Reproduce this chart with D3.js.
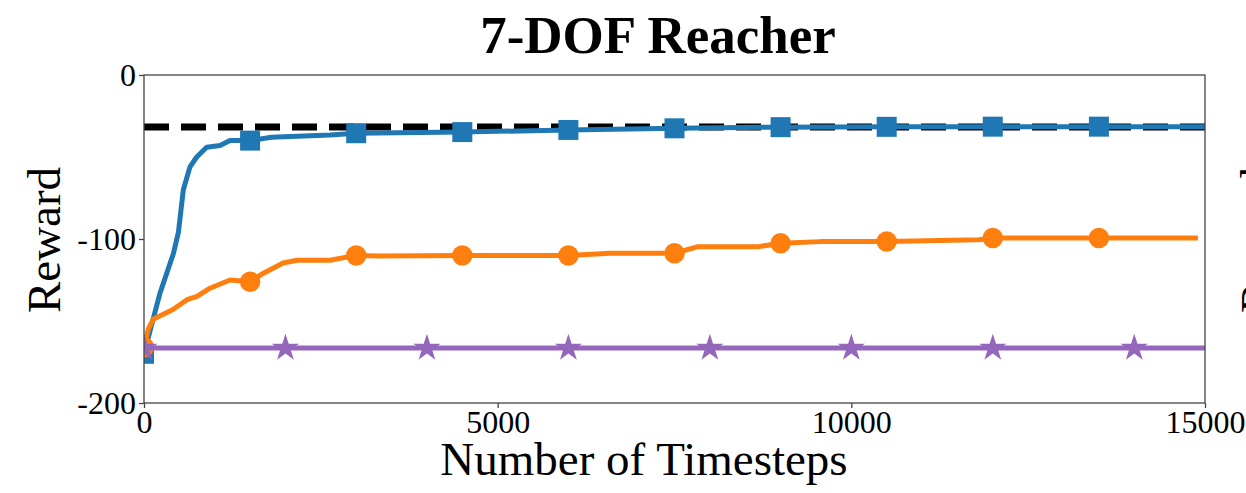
<!DOCTYPE html>
<html><head><meta charset="utf-8">
<script src="https://cdn.jsdelivr.net/npm/d3@7"></script>
<style>body{margin:0;background:#fff}svg{display:block}text{font-family:"Liberation Serif","Times New Roman",serif;fill:#000}</style>
</head><body><svg id="c" width="1246" height="493"></svg>
<script>
const title = "7-DOF Reacher";
const xLabel = "Number of Timesteps";
const yLabel = "Reward";
const xTicks = [0, 5000, 10000, 15000];
const yTicks = [0, -100, -200];
const refLevel = -31.7;

const blueX = [0, 226, 415, 486, 556, 650, 745, 886, 1075, 1216, 1500, 1800, 2630, 3000, 4500, 6000, 7500, 9000, 10500, 12000, 13500, 15000];
const blueY = [-170, -133, -109, -96, -70, -56, -50, -44, -43, -40, -40, -38, -36.6, -35.5, -34.8, -33.5, -32.5, -31.8, -31.6, -31.5, -31.5, -31.5];

const orangeX = [0, 60, 130, 410, 608, 750, 933, 1216, 1500, 1683, 1966, 2164, 2630, 3000, 3340, 4500, 6000, 6590, 7500, 7820, 8670, 9000, 9560, 10500, 11800, 12000, 13500, 14900];
const orangeY = [-166, -155, -149, -143, -137, -135, -130, -125, -126, -121, -114.6, -113, -113, -110, -110.4, -110, -110, -108.7, -108.7, -104.8, -104.8, -102.6, -101.6, -101.5, -100.5, -99.4, -99.4, -99.4];

const purpleX = [0, 2000, 4000, 6000, 8000, 10000, 12000, 14000, 15000];
const purpleY = [-166.5, -166.5, -166.5, -166.5, -166.5, -166.5, -166.5, -166.5, -166.5];

const svg = d3.select("#c");
const L = 144, R = 1205, T = 75, B = 403;
const x = d3.scaleLinear().domain([0, 15000]).range([L, R]);
const y = d3.scaleLinear().domain([-200, 0]).range([B, T]);

svg.append("defs").append("clipPath").attr("id", "clip")
  .append("rect").attr("x", L).attr("y", T).attr("width", R - L).attr("height", B - T);
const g = svg.append("g").attr("clip-path", "url(#clip)");

// reference dashed line
g.append("line").attr("x1", x(0)).attr("x2", x(15000)).attr("y1", y(refLevel)).attr("y2", y(refLevel))
  .attr("stroke", "#000").attr("stroke-width", 7).attr("stroke-dasharray", "25,12");

const line = d3.line().x(d => x(d[0])).y(d => y(d[1]));
function series(xs, ys, color, markerTest, shape, size) {
  const pts = xs.map((v, i) => [v, ys[i]]);
  g.append("path").datum(pts).attr("d", line).attr("fill", "none")
    .attr("stroke", color).attr("stroke-width", 5).attr("stroke-linejoin", "round");
  const sym = d3.symbol().type(shape).size(size);
  g.selectAll(null).data(pts.filter(markerTest)).enter().append("path")
    .attr("d", sym).attr("transform", d => `translate(${x(d[0])},${y(d[1])})`)
    .attr("fill", color);
}
series(blueX, blueY, "#1f77b4", d => d[0] % 1500 === 0 && d[0] < 15000, d3.symbolSquare, 400);
series(orangeX, orangeY, "#ff7f0e", d => d[0] % 1500 === 0, d3.symbolCircle, 330);
series(purpleX, purpleY, "#9467bd", d => d[0] % 2000 === 0, d3.symbolStar, 230);

// spines
svg.append("rect").attr("x", L).attr("y", T).attr("width", R - L).attr("height", B - T)
  .attr("fill", "none").attr("stroke", "#444").attr("stroke-width", 1.3);

// axes
const xa = svg.append("g").attr("transform", `translate(0,${B})`)
  .call(d3.axisBottom(x).tickValues(xTicks).tickSize(5).tickPadding(2).tickFormat(d3.format("d")));
const ya = svg.append("g").attr("transform", `translate(${L},0)`)
  .call(d3.axisLeft(y).tickValues(yTicks).tickSize(5).tickPadding(3).tickFormat(d => d3.format("d")(d).replace("−", "-")));
[xa, ya].forEach(a => {
  a.attr("font-family", null).attr("font-size", null);
  a.select(".domain").remove();
  a.selectAll("line").attr("stroke", "#444").attr("stroke-width", 1.3);
  a.selectAll("text").style("font-size", "32px").style("font-family", "'Liberation Serif', serif").attr("fill", "#000");
});

svg.append("text").attr("x", 658).attr("y", 53).attr("text-anchor", "middle")
  .style("font-size", "53px").attr("font-weight", "bold").text(title);
svg.append("text").attr("x", 644).attr("y", 475).attr("text-anchor", "middle")
  .style("font-size", "47px").text(xLabel);
svg.append("text").attr("transform", "translate(60,240) rotate(-90)").attr("text-anchor", "middle")
  .style("font-size", "47px").text(yLabel);
// neighbouring subplot label, cut off at the right edge
svg.append("text").attr("transform", "translate(1273,240) rotate(-90)").attr("text-anchor", "middle")
  .style("font-size", "47px").text(yLabel);
</script></body></html>
